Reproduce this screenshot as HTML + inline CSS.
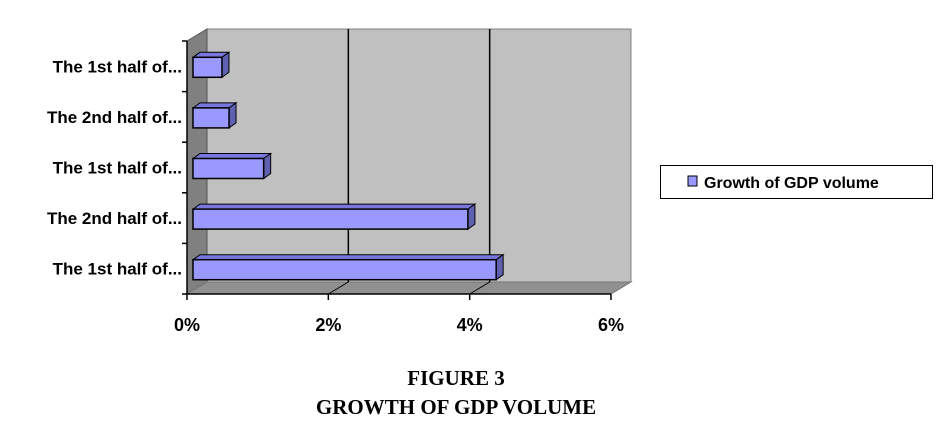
<!DOCTYPE html>
<html><head><meta charset="utf-8"><style>
body{margin:0;background:#fff;width:951px;height:428px;overflow:hidden}
svg{display:block}
</style></head><body>
<svg id="chart" width="951" height="428" viewBox="0 0 951 428" xmlns="http://www.w3.org/2000/svg">
<g id="plot"></g>
<g>
<rect x="660.5" y="165.5" width="272" height="33" fill="#fff" stroke="#000" stroke-width="1"/>
<g>
<rect x="688" y="176" width="9" height="10" fill="#9999ff" stroke="#000"/>
<text x="704" y="188" font-family="Liberation Sans, sans-serif" font-weight="bold" font-size="16">Growth of GDP volume</text>
</g></g>
<text x="456" y="385" text-anchor="middle" font-family="Liberation Serif, serif" font-weight="bold" font-size="21">FIGURE 3</text>
<text x="456" y="414" text-anchor="middle" font-family="Liberation Serif, serif" font-weight="bold" font-size="21">GROWTH OF GDP VOLUME</text>
</svg>
<script>
const categories = ["The 1st half of...","The 2nd half of...","The 1st half of...","The 2nd half of...","The 1st half of..."];
const values = [0.41, 0.51, 1.0, 3.89, 4.29];
const xTicks = [0, 2, 4, 6];
const xTickLabels = ["0%","2%","4%","6%"];

const NS="http://www.w3.org/2000/svg";
const g=document.getElementById('plot');
const X0=187, X1=611, Ytop=41, Ybot=294, DX=20, DY=-12;
const xMax=6;
const x=v=>X0+(v/xMax)*(X1-X0);
const band=(Ybot-Ytop)/categories.length;
function mk(tag,attrs,name,inter){const e=document.createElementNS(NS,tag);for(const k in attrs)e.setAttribute(k,attrs[k]);


g.appendChild(e);return e;}
const pts=a=>a.map(p=>p.join(',')).join(' ');
// back wall
mk('polygon',{points:pts([[X0+DX,Ytop+DY],[X1+DX,Ytop+DY],[X1+DX,Ybot+DY],[X0+DX,Ybot+DY]]),fill:'#c0c0c0',stroke:'#808080'},'back-wall','false');
// left wall
mk('polygon',{points:pts([[X0,Ytop],[X0+DX,Ytop+DY],[X0+DX,Ybot+DY],[X0,Ybot]]),fill:'#808080',stroke:'#555'},'side-wall','false');
// floor
mk('polygon',{points:pts([[X0,Ybot],[X0+DX,Ybot+DY],[X1+DX,Ybot+DY],[X1,Ybot]]),fill:'#909090',stroke:'#777'},'floor','false');
// gridlines
xTicks.forEach((t,i)=>{
  const xx=x(t);
  if(i>0&&i<xTicks.length-1){
    mk('line',{x1:xx+DX,y1:Ytop+DY,x2:xx+DX,y2:Ybot+DY,stroke:'#000','stroke-width':1.5},'gridline','false');
    mk('line',{x1:xx+DX,y1:Ybot+DY,x2:xx,y2:Ybot,stroke:'#000','stroke-width':1},'gridline-floor','false');
  }
  mk('line',{x1:xx,y1:Ybot,x2:xx,y2:Ybot+6,stroke:'#000','stroke-width':1.5},'x-tick','false');
  const t2=mk('text',{x:xx,y:331,'text-anchor':'middle','font-family':'Liberation Sans, sans-serif','font-weight':'bold','font-size':18},'x-tick-label','false');
  t2.textContent=xTickLabels[i];
});
// axes
mk('line',{x1:X0,y1:Ytop,x2:X0,y2:Ybot,stroke:'#000','stroke-width':1.5},'y-axis','false');
mk('line',{x1:X0,y1:Ybot,x2:X1,y2:Ybot,stroke:'#000','stroke-width':1.5},'x-axis','false');
for(let i=0;i<=categories.length;i++){const yy=Ytop+i*band;
  mk('line',{x1:X0-5,y1:yy,x2:X0,y2:yy,stroke:'#000','stroke-width':1.5},'y-tick','false');}
// bars (top category first)
const bx=X0+6, bh=20, ddx=7, ddy=-5;
categories.forEach((c,i)=>{
  const yc=Ytop+i*band+band/2;
  const y0=yc-bh/2+1, xe=bx+(values[i]/xMax)*(X1-X0);
  mk('polygon',{points:pts([[bx,y0],[bx+ddx,y0+ddy],[xe+ddx,y0+ddy],[xe,y0]]),fill:'#7777dd',stroke:'#000','stroke-width':1},'bar-top','true');
  mk('polygon',{points:pts([[xe,y0],[xe+ddx,y0+ddy],[xe+ddx,y0+bh+ddy],[xe,y0+bh]]),fill:'#6060b0',stroke:'#000','stroke-width':1},'bar-side','true');
  mk('rect',{x:bx,y:y0,width:xe-bx,height:bh,fill:'#9999ff',stroke:'#000','stroke-width':1.5},'bar-'+(i+1),'true');
  const t=mk('text',{x:182,y:yc+6,'text-anchor':'end','font-family':'Liberation Sans, sans-serif','font-weight':'bold','font-size':17},'category-label','false');
  t.textContent=c;
});
</script>
</body></html>
